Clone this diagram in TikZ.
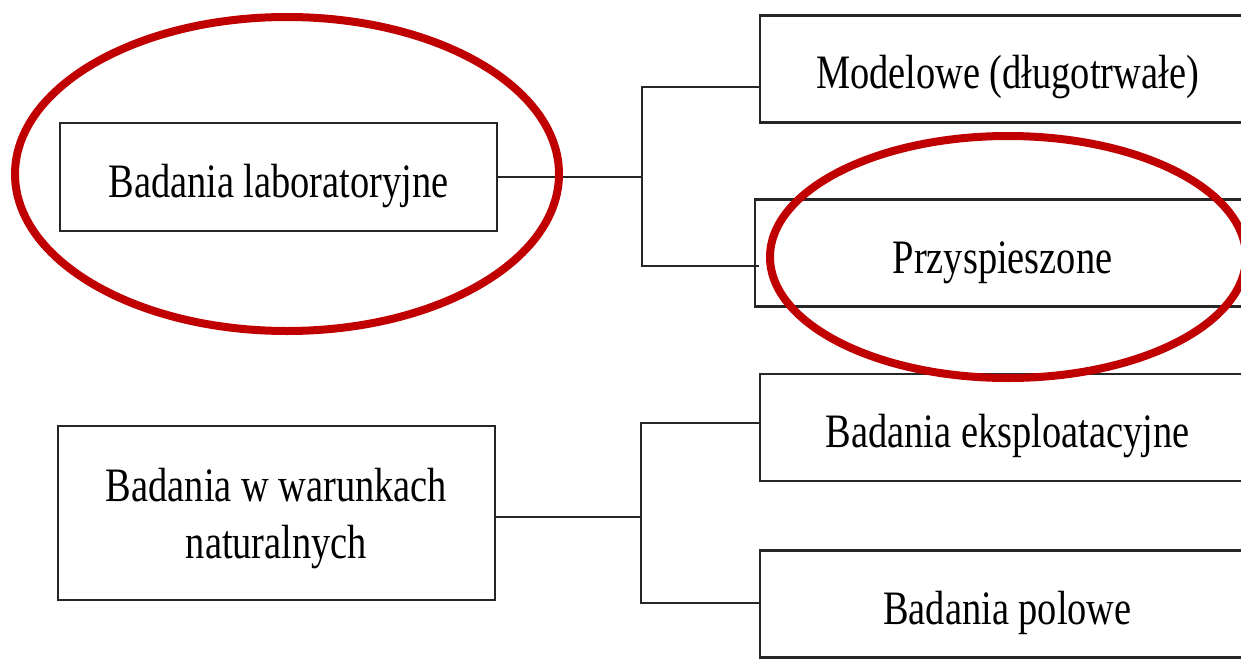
\documentclass[tikz,border=0pt]{standalone}
\usepackage{fontspec}
\setmainfont{Liberation Serif}[FakeStretch=0.8]
\usepackage{tikz}
\definecolor{ringred}{RGB}{192,0,0}
\tikzstyle{block} = [rectangle, draw=black!85, line width=2.2pt, fill=none,
    align=center, inner sep=0pt, font=\fontsize{48}{57}\selectfont]

\begin{document}
\begin{tikzpicture}[
x=1pt, y=-1pt,
conn/.style = {draw=black!85, line width=2.6pt},
ring/.style = {draw=ringred, line width=8pt},
lbox/.style = {block, minimum width=437pt},
rbox/.style = {block, minimum width=495pt, minimum height=107pt, text height=40pt, text depth=0pt}
                        ]
\useasboundingbox (0,0) rectangle (1241,658);
% left column
\node [lbox, minimum height=108pt, text height=40pt, text depth=0pt] (lab) at (278.5,177) {Badania laboratoryjne};
\node [lbox, minimum height=174pt, text depth=0pt] (nat) at (276.5,513) {Badania w warunkach\\naturalnych};
% right column
\node [rbox] (model)  at (1007.5,69)  {Modelowe (długotrwałe)};
\node [rbox] (przysp) at (1002.5,253) {Przyspieszone};
\node [rbox] (eksp)   at (1007.5,427.5) {Badania eksploatacyjne};
\node [rbox] (polowe) at (1007.5,604) {Badania polowe};
% forks
\coordinate (labup) at (642,87);
\coordinate (labdn) at (642,266);
\coordinate (natup) at (641,423);
\coordinate (natdn) at (641,603);
\draw [conn] (lab.east) -- (lab.east -| labup);
\draw [conn] (model.west |- labup) -- (labup) -- (labdn) -- ([xshift=5pt]przysp.west |- labdn);
\draw [conn] (nat.east |- 0,517) -- (natup |- 0,517);
\draw [conn] (eksp.west |- natup) -- (natup) -- (natdn) -- (polowe.west |- natdn);
% red marks
\draw [ring] (287,174) ellipse [x radius=272pt, y radius=157pt];
\draw [ring] (1008,257) ellipse [x radius=238pt, y radius=121pt];
\end{tikzpicture}
\end{document}
